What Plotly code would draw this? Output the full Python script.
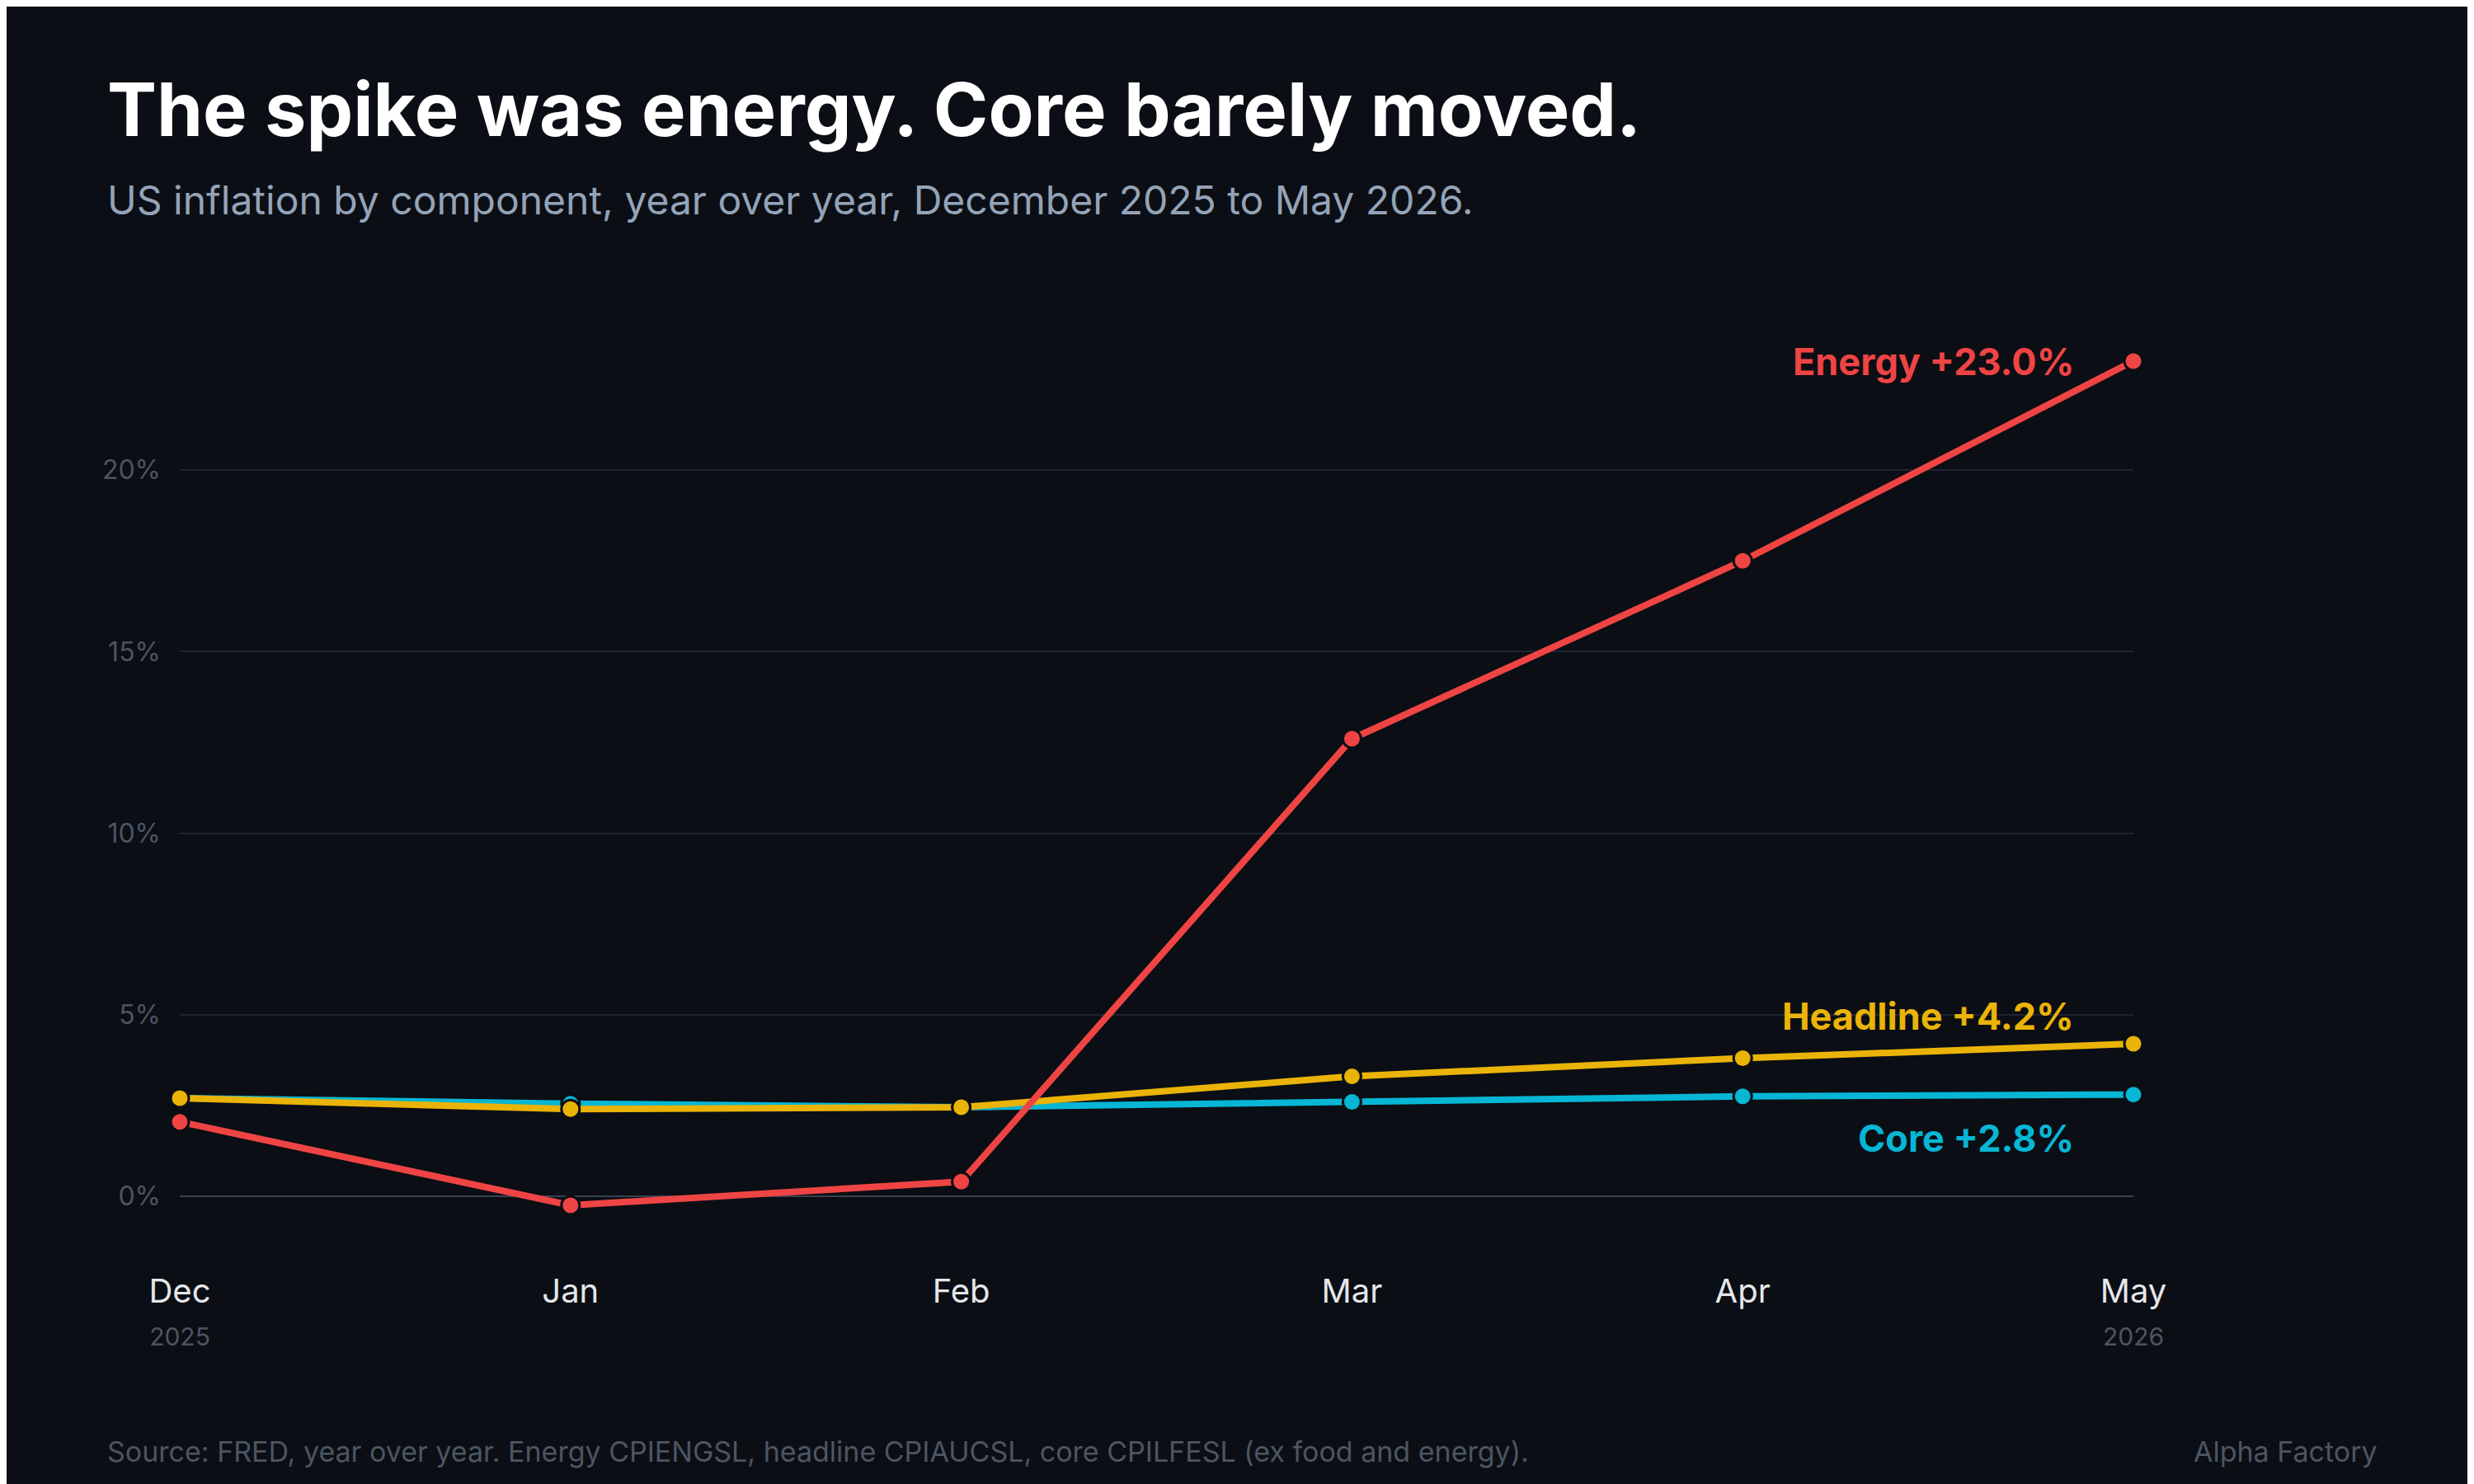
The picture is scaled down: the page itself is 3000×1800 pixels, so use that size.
import plotly.graph_objects as go

months = ["Dec", "Jan", "Feb", "Mar", "Apr", "May"]
years = ["2025", "", "", "", "", "2026"]
energy = [2.05, -0.25, 0.4, 12.6, 17.5, 23.0]
headline = [2.7, 2.4, 2.45, 3.3, 3.8, 4.2]
core = [2.7, 2.55, 2.45, 2.6, 2.75, 2.8]

BG = "#0b0e14"
W, H = 3000, 1800
L, R, T, B = 210, 421, 386, 291
PW, PH = W - L - R, H - T - B


def px_x(p):
    return (p - L) / PW


def px_y(p):
    return (H - B - p) / PH


fig = go.Figure()
series = [("Core", core, "#06b6d4"), ("Headline", headline, "#eab308"), ("Energy", energy, "#ef4444")]
for name, vals, col in series:
    fig.add_trace(go.Scatter(
        x=list(range(len(months))), y=vals, mode="lines+markers", name=name,
        line=dict(color=col, width=8),
        marker=dict(size=22, color=col, line=dict(color=BG, width=3)),
        cliponaxis=False, hoverinfo="skip"))

labels = [("Energy +23.0%", energy[-1], "#ef4444", 0),
          ("Headline +4.2%", headline[-1], "#eab308", 33),
          ("Core +2.8%", core[-1], "#06b6d4", -53)]
for txt, yv, col, ys in labels:
    fig.add_annotation(x=5, y=yv, text="<b>%s</b>" % txt, showarrow=False,
                       xanchor="right", xshift=-70, yshift=ys,
                       font=dict(size=45, color=col, family="Inter"))

ticktext = []
for m, yr in zip(months, years):
    if yr:
        ticktext.append(m + "<br><span style='font-size:30px;color:#4b5563'>%s</span>" % yr)
    else:
        ticktext.append(m + "<br> ")

fig.update_layout(
    width=W, height=H,
    paper_bgcolor=BG, plot_bgcolor=BG,
    margin=dict(l=L, r=R, t=T, b=B),
    showlegend=False,
    font=dict(family="Inter", color="#e5e7eb"),
    xaxis=dict(range=[0, 5], tickvals=list(range(6)), ticktext=ticktext,
               showgrid=False, zeroline=False, showline=False,
               tickfont=dict(size=40, color="#e5e7eb"), ticklabelstandoff=22),
    yaxis=dict(range=[-1.5, 24], tickvals=[0, 5, 10, 15, 20],
               ticktext=["0%", "5%", "10%", "15%", "20%"],
               gridcolor="#1f2430", gridwidth=2, zeroline=True,
               zerolinecolor="#3a4150", zerolinewidth=2,
               tickfont=dict(size=32, color="#4b5563"), ticklabelstandoff=22),
)

# title and subtitle
fig.add_annotation(xref="paper", yref="paper", x=px_x(120), y=px_y(124),
                   text="<b>The spike was energy. Core barely moved.</b>",
                   showarrow=False, xanchor="left", yanchor="middle",
                   font=dict(size=90, color="#ffffff", family="Inter"))
fig.add_annotation(xref="paper", yref="paper", x=px_x(120), y=px_y(234),
                   text="US inflation by component, year over year, December 2025 to May 2026.",
                   showarrow=False, xanchor="left", yanchor="middle",
                   font=dict(size=48, color="#94a3b8", family="Inter"))

# footer
fig.add_annotation(xref="paper", yref="paper", x=px_x(120), y=px_y(1752),
                   text="Source: FRED, year over year. Energy CPIENGSL, headline CPIAUCSL, core CPILFESL (ex food and energy).",
                   showarrow=False, xanchor="left", yanchor="middle",
                   font=dict(size=34, color="#4b5563"))
fig.add_annotation(xref="paper", yref="paper", x=px_x(2877), y=px_y(1752),
                   text="Alpha Factory", showarrow=False, xanchor="right", yanchor="middle",
                   font=dict(size=34, color="#4b5563"))

fig.write_html("out.html")
